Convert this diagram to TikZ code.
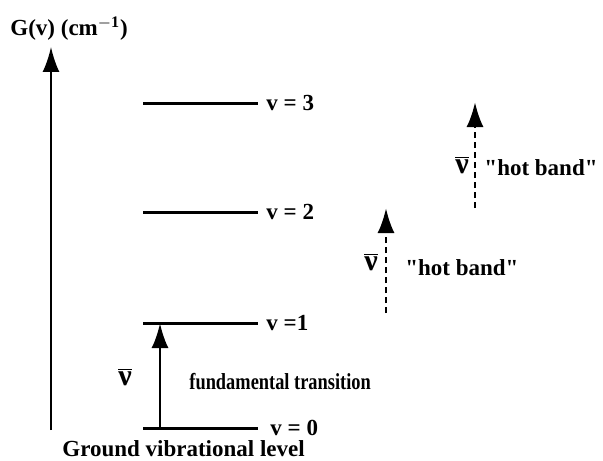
\documentclass[tikz,border=0pt]{standalone}
\usepackage{fontspec}
\setmainfont{Liberation Serif}[Ligatures=TeXOff]
\usetikzlibrary{arrows.meta, positioning}

\newcommand{\wavenum}{{\fontsize{15}{15}\selectfont$\overline{\hbox{ν}}$}}
\newcommand{\hotband}{"hot band"}

\begin{document}
\begin{tikzpicture}[x=0.5pt,y=-0.5pt,
  every node/.style={font=\bfseries\fontsize{11.5}{14}\selectfont, inner sep=1pt},
  lvl/.style={line width=1.5pt},
  up/.style={line width=1.4pt, -{Latex[length=12.5pt,width=8.5pt]}},
  hot/.style={up, dash pattern=on 3pt off 2pt}]
  \useasboundingbox (0,0) rectangle (603,460);
  % energy axis
  \coordinate (ax0) at (51,430);
  \coordinate (ax1) at (51,47);
  \draw[up, line width=1pt] (ax0) -- (ax1);
  \node[anchor=base west] (title) at (8,36) {G(v) (cm$^{\mathbf{-1}}$)};
  % levels
  \coordinate (l0a) at (143,428); \coordinate (l0b) at (258,428);
  \coordinate (l1a) at (143,323); \coordinate (l1b) at (258,323);
  \coordinate (l2a) at (143,212); \coordinate (l2b) at (258,212);
  \coordinate (l3a) at (143,103); \coordinate (l3b) at (258,103);
  \draw[lvl] (l0a) -- (l0b);
  \draw[lvl] (l1a) -- (l1b);
  \draw[lvl] (l2a) -- (l2b);
  \draw[lvl] (l3a) -- (l3b);
  \node[right=5pt of l0b] (v0) {v = 0};
  \node[right=3pt of l1b] (v1) {v =1};
  \node[right=3pt of l2b] (v2) {v = 2};
  \node[right=3pt of l3b] (v3) {v = 3};
  \node[anchor=base west] (ground) at (60,456) {Ground vibrational level};
  % fundamental transition
  \coordinate (f0) at (160,428);
  \coordinate (f1) at (160,323);
  \draw[up] (f0) -- (f1);
  \node (nuf) at (125,377) {\wavenum};
  \node[anchor=west] (fund) at (187,382) {\scalebox{0.8}[1]{fundamental transition}};
  % hot bands
  \coordinate (hb1a) at (386,313);
  \coordinate (hb1b) at (386,208);
  \draw[hot] (hb1a) -- (hb1b);
  \node (nuh1) at (371,262) {\wavenum};
  \node[anchor=west] (hot1) at (403,268) {\hotband};
  \coordinate (hb2a) at (475,208);
  \coordinate (hb2b) at (475,102);
  \draw[hot] (hb2a) -- (hb2b);
  \node (nuh2) at (462,165) {\wavenum};
  \node[anchor=east] (hot2) at (600,168) {\hotband};
\end{tikzpicture}
\end{document}
